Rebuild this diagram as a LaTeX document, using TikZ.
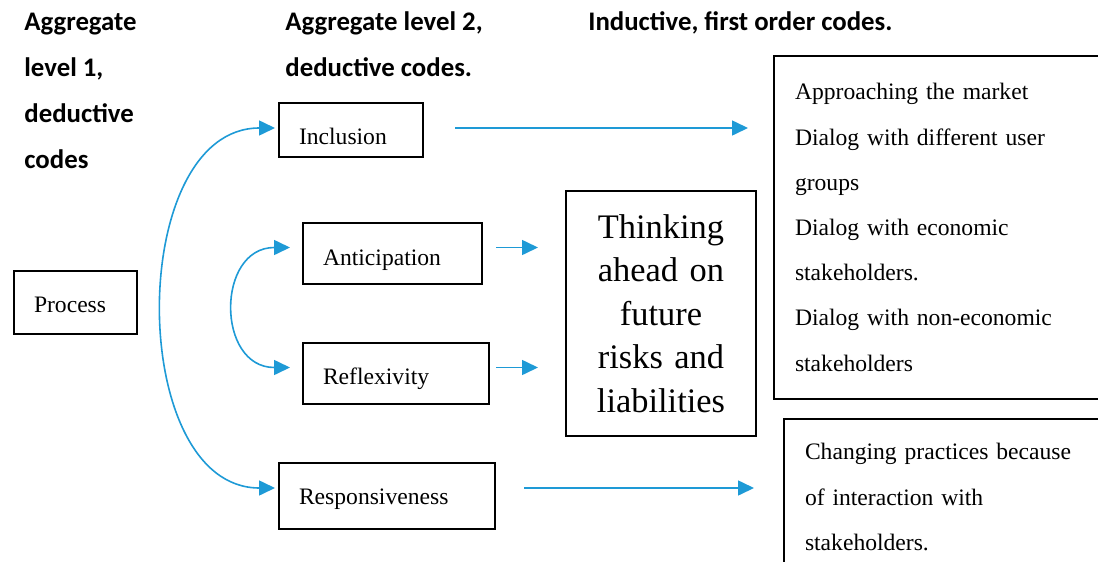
\documentclass[tikz,border=0pt]{standalone}
\usepackage{fontspec}
\setmainfont{Liberation Serif}
\newfontfamily\headfont{Carlito}
\usetikzlibrary{arrows.meta}
\definecolor{flowblue}{RGB}{30,154,214}
\tikzset{>={Triangle[length=8pt,width=7.5pt]}}

\begin{document}
\begin{tikzpicture}[x=1pt,y=-1pt,
    head/.style={anchor=base west,inner sep=0pt,align=left,
      font=\headfont\bfseries\fontsize{13.4}{23}\selectfont},
    code/.style={draw,line width=1pt,anchor=north west,inner ysep=0pt,
      inner xsep=10pt,align=left,font=\fontsize{11.8}{22.6}\selectfont},
    sink/.style={text height=#1,text depth=0pt},
    flow/.style={flowblue,line width=0.8pt,->}]
  \clip (0,0) rectangle (549,281);
  % headings (base anchor sits on the last line)
  \node[head] at (12,84) (lvlone) {Aggregate\\level 1,\\deductive\\codes};
  \node[head] at (142.5,38) (lvltwo) {Aggregate level 2,\\deductive codes.};
  \node[head] at (294,15) (induct) {Inductive, first order codes.};
  % code boxes
  \node[code,sink=9.8pt,text width=41.5pt,minimum height=31.5pt] at (6.5,135) (proc) {Process};
  \node[code,sink=14pt,text width=52pt,minimum height=27pt] at (139,51) (incl) {Inclusion};
  \node[code,sink=11.5pt,text width=69.5pt,minimum height=30.5pt] at (151,111) (antic) {Anticipation};
  \node[code,sink=10.5pt,text width=73pt,minimum height=30.5pt] at (151,171) (reflex) {Reflexivity};
  \node[code,sink=8.3pt,text width=88pt,minimum height=33pt] at (139,231) (resp) {Responsiveness};
  \node[draw,line width=1pt,anchor=north west,text width=85pt,inner xsep=5pt,
    inner ysep=0pt,minimum height=122.5pt,align=center,
    font=\fontsize{17.2}{21.75}\selectfont] at (282.5,95) (think)
    {Thinking\\ahead on\\future\\risks and\\liabilities};
  \node[code,text width=180pt,inner xsep=10.5pt,minimum height=171.5pt] at (386.5,27.5) (dialog)
    {Approaching the market\\Dialog with different user\\groups\\Dialog with economic\\
     stakeholders.\\Dialog with non-economic\\stakeholders};
  \node[code,text width=180pt,inner xsep=10.5pt,minimum height=78pt] at (391.5,209) (change)
    {Changing practices because\\of interaction with\\stakeholders.};
  % arrows
  \draw[flow,shorten <=15.5pt,shorten >=12.5pt] ([yshift=1pt]incl.east) -- ([yshift=1pt]incl.east -| dialog.west);
  \draw[flow,shorten <=6.5pt,shorten >=13.5pt] ([yshift=3pt]antic.east) -- ([yshift=3pt]antic.east -| think.west);
  \draw[flow,shorten <=3pt,shorten >=13.5pt] ([yshift=3pt]reflex.east) -- ([yshift=3pt]reflex.east -| think.west);
  \draw[flow,shorten <=14pt,shorten >=14.5pt] ([yshift=4pt]resp.east) -- ([yshift=4pt]resp.east -| change.west);
  \draw[flow,<->,shorten <=1.5pt,shorten >=1.5pt] ([yshift=1pt]incl.west)
    .. controls +(-76,0) and +(-76,0) .. ([yshift=4pt]resp.west);
  \draw[flow,<->,shorten <=6pt,shorten >=6pt] ([yshift=3pt]antic.west)
    .. controls +(-43,0) and +(-43,0) .. ([yshift=3pt]reflex.west);
\end{tikzpicture}
\end{document}
